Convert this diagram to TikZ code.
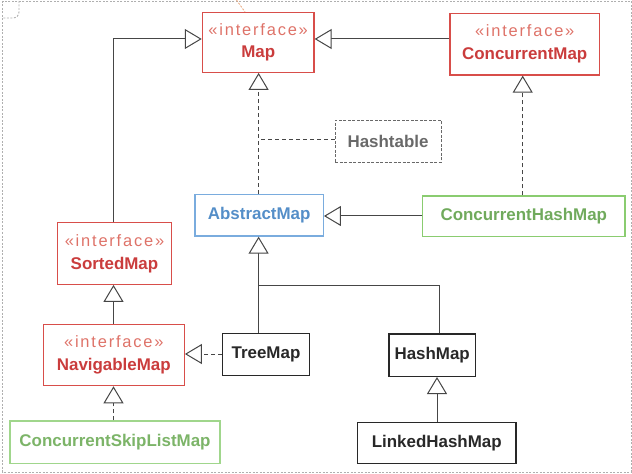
\documentclass[tikz,border=0pt]{standalone}
\usepackage{fontspec}
\setmainfont{Liberation Sans}
\newfontfamily\ifacefont[LetterSpace=11]{Liberation Sans}
\usetikzlibrary{arrows.meta}
\definecolor{ifred}{RGB}{216,78,74}
\definecolor{iftxt}{RGB}{222,114,104}
\definecolor{nametxt}{RGB}{202,60,60}
\definecolor{abblue}{RGB}{122,172,222}
\definecolor{abtxt}{RGB}{84,142,200}
\definecolor{grbox}{RGB}{138,204,112}
\definecolor{grtxt}{RGB}{112,170,92}
\definecolor{grbox2}{RGB}{160,214,140}
\definecolor{grtxt2}{RGB}{124,180,104}
\definecolor{htgray}{RGB}{105,105,105}
\definecolor{blk}{RGB}{40,40,40}
\definecolor{lnk}{RGB}{70,70,70}
\definecolor{frm}{RGB}{175,175,175}
\definecolor{note}{RGB}{232,164,120}
\newcommand{\iface}[1]{{\ifacefont\mdseries\fontsize{16.5}{23}\selectfont\color{iftxt}«interface»}\\{\color{nametxt}#1}}
\tikzset{
  box/.style={draw, line width=1.2bp, inner sep=0pt, align=center,
    font=\fontsize{17}{23}\selectfont\bfseries},
  ifbox/.style={box, draw=ifred},
  plainbox/.style={box, draw=blk, text=blk, line width=1.3bp},
  inh/.style={draw=lnk, line width=1bp, -{Triangle[open, length=17bp, width=20bp, fill=white]}},
  real/.style={inh, dash pattern=on 4bp off 3bp},
  dsh/.style={draw=lnk, line width=1bp, dash pattern=on 4bp off 3bp},
  conn/.style={draw=lnk, line width=1bp}
}
\begin{document}
\begin{tikzpicture}[x=1bp, y=-1bp]
\useasboundingbox (0,0) rectangle (632,474);
% frame
\draw[frm, line width=0.9bp, dash pattern=on 2bp off 1.5bp] (2.5,1) rectangle (631,472);
\draw[frm, line width=0.9bp, dash pattern=on 2bp off 1.5bp] (19,1) -- (19,12) arc[start angle=0, end angle=90, radius=6] -- (2.5,18);
\draw[note, line width=0.8bp, dash pattern=on 2bp off 1.5bp] (236.5,0) -- (245,12);

% nodes
\node[ifbox, minimum width=111.7bp, minimum height=60bp] (map) at (258.2,42.3) {\iface{Map}};
\node[ifbox, minimum width=149.3bp, minimum height=61.7bp] (cmap) at (524.7,44.2) {\iface{ConcurrentMap}};
\node[box, draw=htgray, text=htgray, dash pattern=on 3bp off 1.5bp, line width=1bp, minimum width=106bp, minimum height=42bp] (ht) at (388,141.5) {Hashtable};
\node[box, draw=abblue, text=abtxt, minimum width=128.3bp, minimum height=41.7bp] (amap) at (259.2,215.2) {AbstractMap};
\node[box, draw=grbox, text=grtxt, minimum width=202.3bp, minimum height=40.7bp] (chm) at (523.8,216.3) {ConcurrentHashMap};
\node[ifbox, minimum width=114.4bp, minimum height=61.6bp] (sm) at (114.5,253.5) {\iface{SortedMap}};
\node[ifbox, minimum width=141bp, minimum height=61.4bp] (nm) at (113.8,355) {\iface{NavigableMap}};
\node[plainbox, minimum width=86.6bp, minimum height=42.4bp] (tm) at (266,354.5) {TreeMap};
\node[plainbox, minimum width=86.3bp, minimum height=42.3bp] (hm) at (432.2,355.2) {HashMap};
\node[plainbox, minimum width=158.7bp, minimum height=41bp] (lhm) at (436.7,442.8) {LinkedHashMap};
\node[box, draw=grbox2, text=grtxt2, minimum width=210bp, minimum height=42.3bp] (cslm) at (115,442.2) {ConcurrentSkipListMap};

% helper coordinates
\coordinate (ya) at (0,39);
\coordinate (xm) at (258.6,0);
\coordinate (xs) at (113.5,0);
\coordinate (xc) at (522.7,0);
\coordinate (yc) at (0,216);
\coordinate (yt) at (0,354);
\coordinate (yh) at (0,139.5);
\coordinate (yj) at (0,286);
\coordinate (xh) at (439.3,0);
\coordinate (xl) at (437,0);

% connectors
\draw[inh] (sm.north -| xs) |- (map.west |- ya);
\draw[inh] (cmap.west |- ya) -- (map.east |- ya);
\draw[real] (amap.north -| xm) -- (map.south -| xm);
\draw[dsh] (ht.west |- yh) -- (xm |- yh);
\draw[real] (chm.north -| xc) -- (cmap.south -| xc);
\draw[inh] (chm.west |- yc) -- (amap.east |- yc);
\draw[inh] (nm.north -| xs) -- (sm.south -| xs);
\draw[real] (tm.west |- yt) -- (nm.east |- yt);
\draw[real] (cslm.north -| xs) -- (nm.south -| xs);
\draw[inh] (tm.north -| xm) -- (amap.south -| xm);
\draw[conn] (hm.north -| xh) |- (xm |- yj);
\draw[inh] (lhm.north -| xl) -- (hm.south -| xl);
\end{tikzpicture}
\end{document}
